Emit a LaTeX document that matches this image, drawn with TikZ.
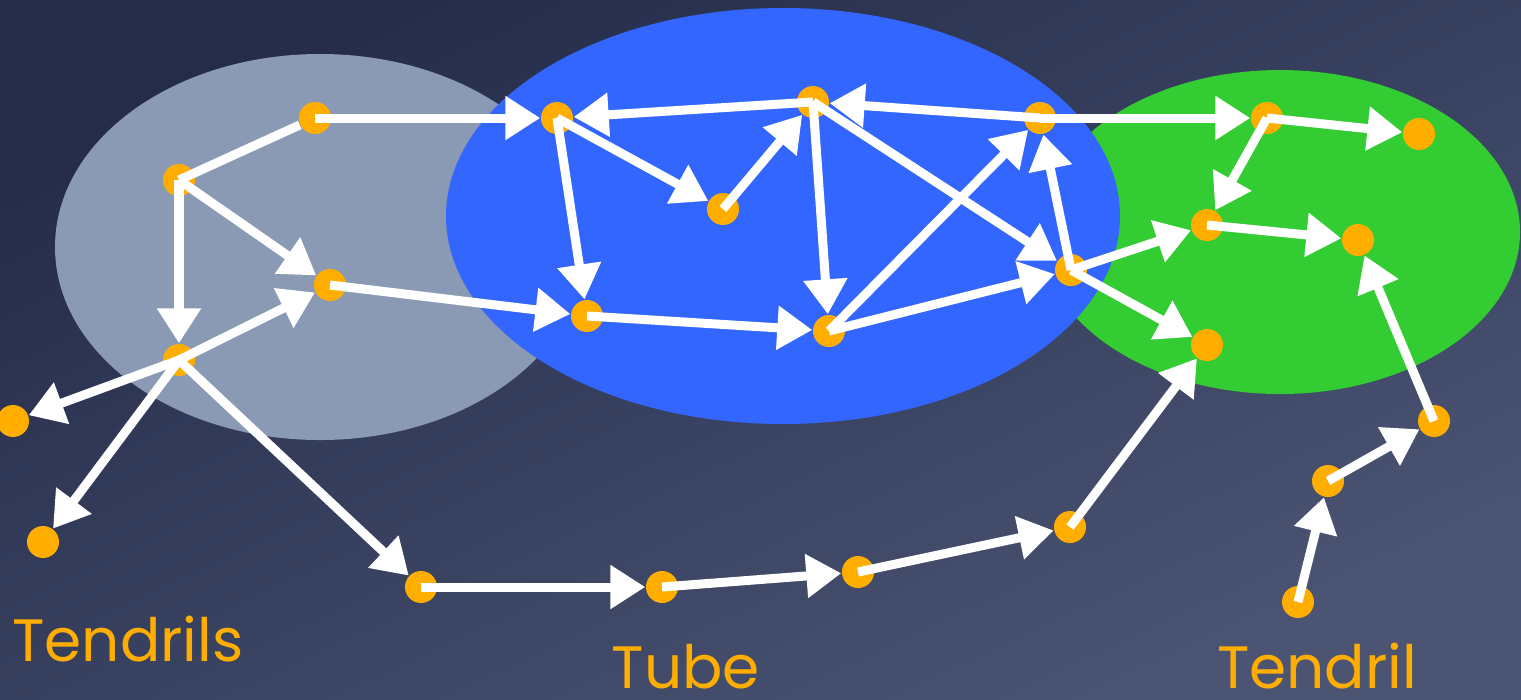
\documentclass[tikz,border=0pt]{standalone}
\usepackage{fontspec}
\setmainfont{Poppins}
\usepackage{tikz}
\usetikzlibrary{arrows.meta}
\usetikzlibrary{positioning}
\definecolor{bgtop}{HTML}{242C4A}
\definecolor{bgbot}{HTML}{4B5473}
\definecolor{greyset}{HTML}{8B9AB4}
\definecolor{blueset}{HTML}{3366FF}
\definecolor{greenset}{HTML}{33CC33}
\definecolor{dot}{HTML}{FFAE00}
\tikzstyle{vertex}=[circle,fill=dot,minimum size=3.2mm,inner sep=0pt]
\tikzstyle{edge} = [draw,white,line width=0.9mm,-{Triangle[length=3.5mm,width=4.2mm]}]
\tikzstyle{undirectededge} = [draw,white,line width=0.9mm]
\tikzstyle{setlabel} = [font=\fontsize{17}{20}\selectfont,text=dot,anchor=base,inner sep=0pt]

\begin{document}
\begin{tikzpicture}[x=0.01cm,y=-0.01cm]

    \shade[top color=bgtop,bottom color=bgbot,shading angle=25] (0,0) rectangle (1521,699);
    \useasboundingbox (0,0) rectangle (1521,699);

    % the three sets
    \fill[greenset] (1280,232) ellipse [x radius=240,y radius=162];
    \fill[greyset] (320,247) ellipse [x radius=265,y radius=193];
    \fill[blueset] (783,216) ellipse [x radius=337,y radius=208];

    \foreach \pos/\name in {{(179,180)/l1}, {(315,118)/l2}, {(330,285)/l3}, {(179,360)/l4}, {(13,421)/l5}, {(43,542)/l6},
                            {(421,587)/p1}, {(662,587)/p2}, {(858,572)/p3}, {(1070,527)/p4}}
        \node[vertex] (\name) at \pos {};

    \foreach \pos/\name in {{(557,118)/c1}, {(813,102)/c2}, {(1040,118)/c3}, {(723,209)/c4}, {(587,316)/c5}, {(829,331)/c6}, {(1071,270)/c7}}
        \node[vertex] (\name) at \pos {};

    \foreach \pos/\name in {{(1267,118)/r1}, {(1419,134)/r2}, {(1207,225)/r3}, {(1358,240)/r4}, {(1207,345)/r5},
                            {(1434,421)/d1}, {(1328,481)/d2}, {(1298,602)/d3}}
        \node[vertex] (\name) at \pos {};

    \path[undirectededge] (l1.center) -- (l2);

    \foreach \source/ \dest in {l1/l3, l1/l4, l4/l3, l4/l5, l4/l6, l4/p1, p1/p2, p2/p3, p3/p4, p4/r5, l2/c1, l3/c5}
        \path[edge] (\source.center) -- (\dest);

    \foreach \source/ \dest in {c1/c4, c1/c5, c4/c2, c2/c1, c3/c2, c2/c6, c2/c7, c5/c6, c6/c7, c6/c3, c7/c3}
        \path[edge] (\source.center) -- (\dest);

    \foreach \source/ \dest in {c3/r1, c7/r3, c7/r5, r1/r2, r1/r3, r3/r4, d1/r4, d2/d1, d3/d2}
        \path[edge] (\source.center) -- (\dest);

    \node[setlabel] (lbl1) at (128,661) {Tendrils};
    \node[setlabel] (lbl2) at (686,688) {Tube};
    \node[setlabel] (lbl3) at (1317,688) {Tendril};

\end{tikzpicture}
\end{document}
